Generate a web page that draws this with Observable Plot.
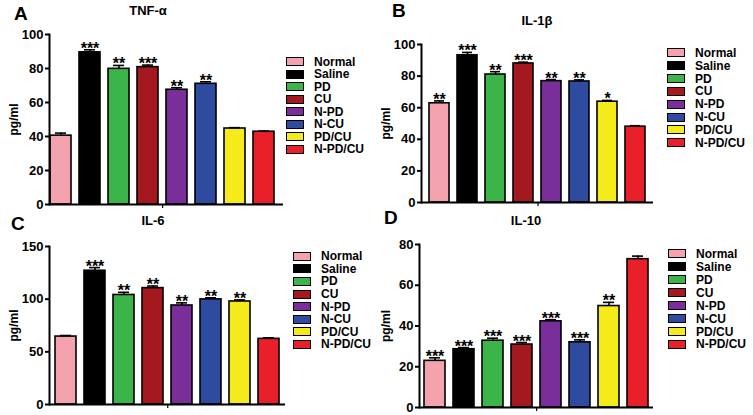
<!DOCTYPE html>
<html><head><meta charset="utf-8">
<script src="https://cdn.jsdelivr.net/npm/d3@7"></script>
<script src="https://cdn.jsdelivr.net/npm/@observablehq/plot@0.6"></script>
<style>
body{margin:0;background:#fff;}
#root{position:relative;width:753px;height:415px;background:#fff;font-family:"Liberation Sans",Arial,sans-serif;color:#000;overflow:hidden;}
.ttl{position:absolute;font-weight:bold;font-size:13px;transform:translate(-50%,-50%);white-space:nowrap;}
.let{position:absolute;font-weight:bold;font-size:19px;transform:translate(0,-50%);}
.leg{position:absolute;font-weight:bold;font-size:12px;line-height:12px;white-space:nowrap;}
.sw{position:absolute;width:16px;height:7px;border:1.5px solid #000;}
</style>
</head><body>
<div id="root"></div>
<script>
const groups = ["Normal","Saline","PD","CU","N-PD","N-CU","PD/CU","N-PD/CU"];
const colors = ["#F4A3AE","#000000","#3BB54A","#A3191F","#7A2E9A","#2E4BA0","#F5EB1A","#E9202A"];

const tnfValues = [40.5, 89.5, 79.8, 80.8, 67.5, 71.0, 44.7, 42.8];
const tnfErrors = [1.5, 1.5, 2.0, 1.2, 1.2, 1.2, 0.5, 0.4];
const tnfStars  = ["", "***", "**", "***", "**", "**", "", ""];

const il1Values = [62.8, 93.2, 81.0, 88.0, 76.8, 76.6, 63.8, 48.0];
const il1Errors = [1.5, 1.8, 1.8, 0.8, 1.0, 1.0, 0.8, 0.6];
const il1Stars  = ["**", "***", "**", "***", "**", "**", "*", ""];

const il6Values = [64.5, 127.0, 104.0, 110.5, 94.0, 99.8, 97.8, 62.3];
const il6Errors = [1.0, 3.0, 2.5, 2.0, 2.5, 1.5, 1.5, 1.0];
const il6Stars  = ["", "***", "**", "**", "**", "**", "**", ""];

const il10Values = [22.9, 28.6, 32.8, 30.9, 42.3, 32.0, 49.8, 72.8];
const il10Errors = [1.5, 0.8, 1.2, 1.0, 0.8, 1.2, 1.8, 1.5];
const il10Stars  = ["***", "***", "***", "***", "***", "***", "**", ""];

const yTicksA = [0, 20, 40, 60, 80, 100];
const yTicksB = [0, 20, 40, 60, 80, 100];
const yTicksC = [0, 50, 100, 150];
const yTicksD = [0, 20, 40, 60, 80];

const root = document.getElementById("root");

function panel(o) {
  const data = groups.map((g, i) => ({group: g, value: o.values[i], err: o.errors[i], stars: o.stars[i], color: colors[i]}));
  const innerW = o.width - o.ml - o.mr;
  const step = innerW / groups.length;
  const plot = Plot.plot({
    width: o.width, height: o.height,
    marginLeft: o.ml, marginRight: o.mr, marginTop: o.mt, marginBottom: o.mb,
    style: {fontFamily: '"Liberation Sans", Arial, sans-serif', fontSize: "12px", fontWeight: "bold", overflow: "visible", background: "transparent"},
    x: {domain: groups, paddingInner: 0.27, paddingOuter: o.po, align: o.align, axis: null},
    y: {domain: o.yDomain, axis: null},
    marks: [
      Plot.barY(data, {x: "group", y: "value", fill: "color", stroke: "#000", strokeWidth: 1.6}),
      Plot.ruleX(data, {x: "group", y1: "value", y2: d => d.value + d.err, stroke: "#000", strokeWidth: 1.6}),
      Plot.tickY(data, {x: "group", y: d => d.value + d.err, stroke: "#000", strokeWidth: 1.6, insetLeft: 5, insetRight: 5}),
      Plot.text(data, {x: "group", y: d => d.value + d.err, text: "stars", lineAnchor: "bottom", dy: 4, fontSize: 16, fontWeight: "bold", fill: "#000"}),
      Plot.axisY({ticks: o.yTicks, tickSize: 4, tickPadding: 2, strokeWidth: 2, fontWeight: "bold", fontSize: 13,
        label: null}),
      Plot.axisY({ticks: [], label: "pg/ml", labelAnchor: "center", labelArrow: "none", labelOffset: o.lo, fontSize: 12, fontWeight: "bold"}),
      Plot.axisX({ticks: [groups[3]], tickFormat: () => "", tickSize: 4, strokeWidth: 1.2, dx: step / 2, label: null}),
      Plot.ruleY([0], {stroke: "#000", strokeWidth: 2}),
      Plot.frame({anchor: "left", stroke: "#000", strokeWidth: 2})
    ]
  });
  plot.style.position = "absolute";
  plot.style.left = o.left + "px";
  plot.style.top = o.top + "px";
  root.appendChild(plot);

  const t = document.createElement("div");
  t.className = "ttl"; t.textContent = o.title;
  t.style.left = o.tx + "px"; t.style.top = o.ty + "px";
  root.appendChild(t);
  const l = document.createElement("div");
  l.className = "let"; l.textContent = o.letter;
  l.style.left = o.lx + "px"; l.style.top = o.ly + "px";
  root.appendChild(l);

  groups.forEach((g, i) => {
    const cy = o.legY + i * o.legStep;
    const s = document.createElement("div");
    s.className = "sw"; s.style.background = colors[i];
    s.style.left = o.legX + "px"; s.style.top = (cy - 5) + "px";
    root.appendChild(s);
    const tx = document.createElement("div");
    tx.className = "leg"; tx.textContent = g;
    tx.style.left = (o.legX + 28) + "px"; tx.style.top = (cy - 6.5) + "px";
    root.appendChild(tx);
  });
}

panel({left: 0, top: 0, width: 290, height: 216, ml: 49, mr: 7, mt: 34, mb: 12, po: 0.1, align: 0.1,
  values: tnfValues, errors: tnfErrors, stars: tnfStars, yDomain: [0, 100], yTicks: yTicksA, lo: 40,
  title: "TNF-α", tx: 148, ty: 10, letter: "A", lx: 14, ly: 14, legX: 286, legY: 62, legStep: 12.57});

panel({left: 380, top: 0, width: 280, height: 214, ml: 41, mr: 7, mt: 44, mb: 12, po: 0.15, align: 0.5,
  values: il1Values, errors: il1Errors, stars: il1Stars, yDomain: [0, 100], yTicks: yTicksB, lo: 40,
  title: "IL-1β", tx: 537, ty: 20, letter: "B", lx: 392, ly: 11, legX: 667, legY: 53.3, legStep: 12.86});

panel({left: 0, top: 205, width: 292, height: 211, ml: 49, mr: 7, mt: 41, mb: 12, po: 0.15, align: 0.5,
  values: il6Values, errors: il6Errors, stars: il6Stars, yDomain: [0, 150], yTicks: yTicksC, lo: 40,
  title: "IL-6", tx: 153, ty: 220, letter: "C", lx: 11, ly: 224, legX: 293, legY: 256.7, legStep: 12.6});

panel({left: 380, top: 205, width: 280, height: 214, ml: 39, mr: 7, mt: 39, mb: 12, po: 0.15, align: 0.5,
  values: il10Values, errors: il10Errors, stars: il10Stars, yDomain: [0, 80], yTicks: yTicksD, lo: 38,
  title: "IL-10", tx: 526, ty: 220, letter: "D", lx: 384, ly: 218, legX: 668, legY: 254.3, legStep: 12.95});
</script>
</body></html>
